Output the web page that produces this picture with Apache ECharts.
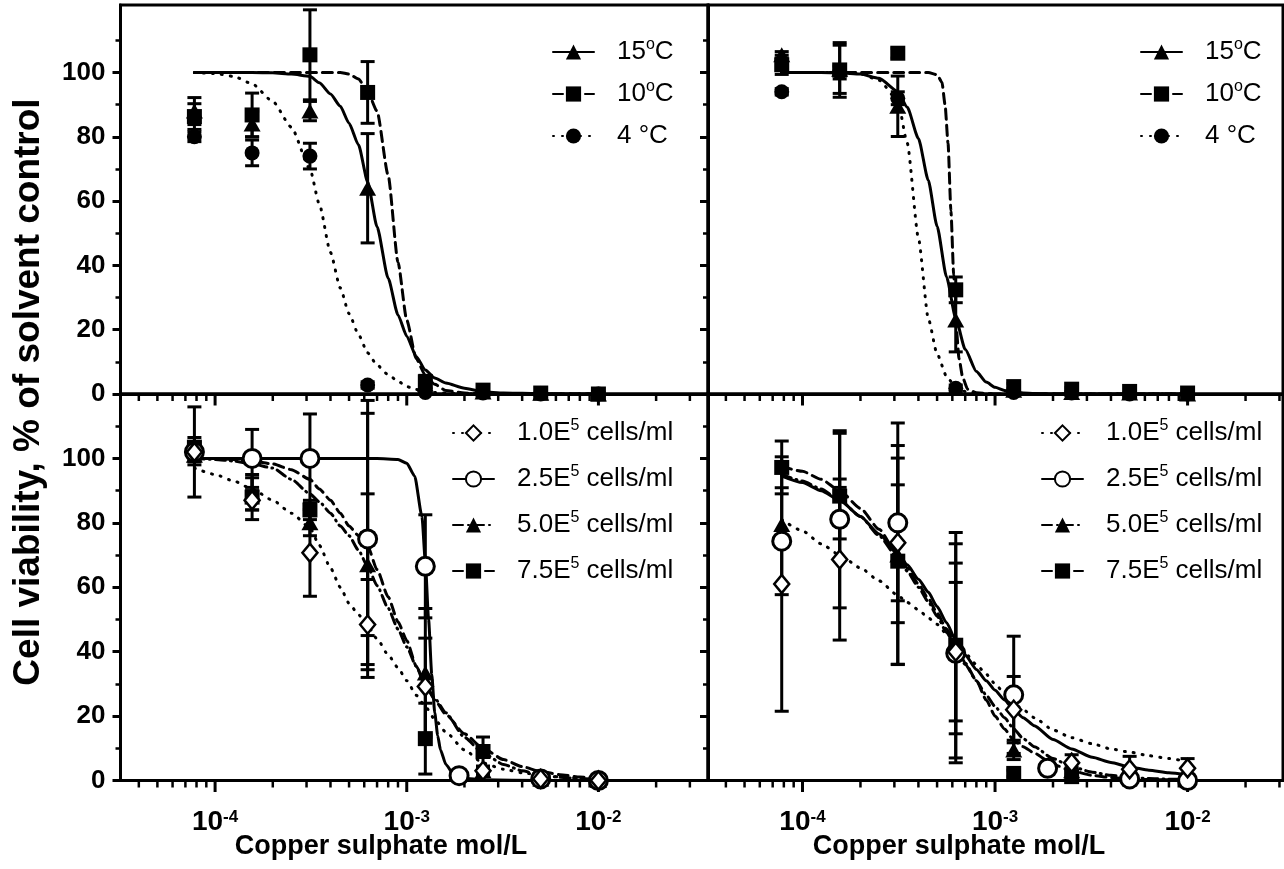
<!DOCTYPE html>
<html>
<head>
<meta charset="utf-8">
<title>Copper sulphate cell viability</title>
<script src="https://cdn.jsdelivr.net/npm/echarts@6/dist/echarts.min.js"></script>
<style>
html, body { margin: 0; padding: 0; background: #fff; }
#main { width: 1284px; height: 869px; }
</style>
</head>
<body>
<div id="main"></div>
<script>
// concentrations, mol/L
var conc = [7.8e-5, 1.56e-4, 3.125e-4, 6.25e-4, 1.25e-3, 2.5e-3, 5e-3, 1e-2];
var concCirc = [7.8e-5, 1.56e-4, 3.125e-4, 6.25e-4, 1.25e-3, 1.875e-3, 5e-3, 1e-2];

// x where the fitted curves were read
var fitX = [7.8e-5, 1e-4, 1.25e-4, 1.56e-4, 2e-4, 2.5e-4, 3.125e-4, 3.5e-4, 4e-4, 4.5e-4, 5e-4, 5.6e-4, 6.25e-4, 7e-4, 8e-4, 9e-4,
            1e-3, 1.12e-3, 1.25e-3, 1.4e-3, 1.6e-3, 2e-3, 2.5e-3, 3.2e-3, 4e-3, 5e-3, 6.3e-3, 8e-3, 1e-2];
var tr10X = [7.8e-5, 1e-4, 2e-4, 3.125e-4, 4e-4, 4.5e-4, 5e-4, 5.3e-4, 5.5e-4, 5.7e-4, 5.9e-4, 6.1e-4, 6.3e-4, 6.5e-4, 6.8e-4, 7.2e-4, 8e-4, 1e-3, 2e-3, 5e-3, 1e-2];
var bl25X = [7.8e-5, 1e-4, 2e-4, 3.125e-4, 5e-4, 7e-4, 9e-4, 1e-3, 1.1e-3, 1.2e-3, 1.25e-3, 1.3e-3, 1.35e-3, 1.4e-3, 1.45e-3, 1.5e-3, 1.6e-3, 1.75e-3, 2e-3, 2.5e-3, 5e-3, 1e-2];

// top left: temperature
var tl15Mean = [88, 84, 88, 64, 3, 0.6, 0.2, 0];
var tl15Err  = [4.2, 4, 3, 17, 1.5, 0, 0, 0];
var tl10Mean = [86.3, 86.8, 105.5, 93.8, 3.8, 1.2, 0.3, 0];
var tl10Err  = [4, 6.8, 14, 9.6, 2, 0.5, 0, 0];
var tl4Mean  = [80, 75, 74, 2.8, 0.5, 0.3, 0, 0];
var tl4Err   = [1.5, 4, 4, 1, 0, 0, 0, 0];
var tl15Fit = [100,100,100,100,99.9,99.5,98.8,96.8,93.3,89.5,84.2,77.5,66,52,36,24.6,18,11.7,7.5,5,3.4,1.8,0.7,0.3,0.2,0.1,0,0,0];
var tl10Fit = [100,100,100,100,100,100,100,100,100,100,99.5,98,94,88,68,41,23,11,5.8,3,1.1,0.3,0,0,0,0,0,0,0];
var tl4Fit  = [100,99.7,98.8,96.5,91,83,70,59,44,33,25,18.5,12.8,9,6,4,2.3,1.4,0.9,0.5,0.3,0.1,0,0,0,0,0,0,0];

// top right: temperature
var tr15Mean = [105.5, 101, 89.5, 23, 1.2, 0.5, 0.3, 0];
var tr15Err  = [1, 7.5, 9.4, 9.9, 0.5, 0, 0, 0];
var tr10Mean = [102.4, 100.8, 106, 32.4, 2.3, 1.5, 0.8, 0.3];
var tr10Err  = [3, 8.5, 1.5, 4, 1, 0.5, 0, 0];
var tr4Mean  = [94, 100, 92, 1.8, 0.5, 0.3, 0, 0];
var tr4Err   = [1, 2, 2, 1, 0, 0, 0, 0];
var tr15Fit = [100,100,100,99.9,99.5,98.2,94.1,89.2,79.5,66.5,52.2,36.4,23.5,13.9,7,3.7,2.1,1.1,0.6,0.3,0.15,0,0,0,0,0,0,0,0];
var tr10Fit = [100,100,100,100,100,100,99.3,97,90,78,57,37,20,11,5,1.5,0.4,0,0,0,0];
var tr4Fit  = [100,100,100,100,99.6,97.6,91.3,78,48.5,23.5,12.5,5.5,2,0.8,0.3,0.1,0,0,0,0,0,0,0,0,0,0,0,0,0];

// bottom left: cell density
var bl10Mean = [102, 87, 70.7, 48.4, 29.2, 3, 0.5, 0];
var bl10Err  = [14, 3, 13.5, 14, 15, 1, 0, 0];
var bl25Mean = [102, 100, 100, 75, 66.5, 1.5, 0.5, 0];
var bl25Err  = [3, 9, 13.8, 39, 16, 0, 0, 0];
var bl50Mean = [101, 89, 80, 67, 33.4, 3, 0.5, 0];
var bl50Err  = [3, 5, 4, 22, 20, 1, 0, 0];
var bl75Mean = [103.5, 88, 84, 75, 13, 9, 0.5, 0];
var bl75Err  = [3, 7, 3, 43, 11, 4.5, 0, 0];
var bl10Fit = [97,95,93,90.5,87,83,78.5,73,66,60,55,51.5,48,44,39,35,31,26.5,23,19,15,9.5,5.4,3.5,2.4,1.7,1.1,0.7,0.4];
var bl25Fit = [100,100,100,100,100,100,99.7,98.5,94.5,82,68,50,33,21,14,9.5,5,2,0.7,0.2,0,0];
var bl50Fit = [100,99.7,99.2,98.3,97,93.5,89,86.5,83,79,76,71.5,66.5,60.5,53.5,47,41.5,35.5,29.2,25.5,21,13.4,8.5,5,3,1.7,1,0.6,0.3];
var bl75Fit = [100,100,99.7,99.2,98.3,96.5,93.5,90.5,87,83,79,76,72.8,65.5,57,49.3,43.5,35.5,30,25,20.5,14.5,10,6.5,4.3,2.8,1.8,1.1,0.7];

// bottom right: cell density
var br10Mean = [61, 68.6, 73.8, 40, 22, 5.5, 3.5, 3.8];
var br10Err  = [39.5, 25, 18, 21.5, 10.3, 2.5, 4, 3];
var br25Mean = [74.3, 81.1, 80, 39.5, 26.6, 3.8, 0.5, 0];
var br25Err  = [16.6, 27.5, 31, 34, 18.2, 0, 0, 0];
var br50Mean = [79.5, 83, 70, 41, 9.5, 3, 1, 0.5];
var br50Err  = [0, 8, 34, 26.5, 3, 1, 0.5, 0];
var br75Mean = [97.2, 88.3, 68.1, 42, 2.2, 1.2, 0.5, 0];
var br75Err  = [8.2, 19.5, 32, 35, 1, 0, 0, 0];
var br10Fit = [81,77.5,73.5,70,66,62,57.5,55.3,53,50.5,48.5,45.5,42.5,39.5,36,33,30,27,24,22,19.5,15.7,13.3,11.4,9.8,8.8,7.7,6.8,5.9];
var br25Fit = [94.5,92.5,90,87,82,76.5,70.5,67,62.5,58.5,54,49,43.5,39,34.5,31,28,25,22,19.5,17,12.7,9.8,7.2,5.6,4.2,3.2,2.4,1.7];
var br50Fit = [95,93,90.5,87,82,76,69,65,60,55.5,51,46,41,36,31,26.5,23,19.5,16,13,10.5,6.8,4.3,2.6,1.6,1,0.6,0.4,0.3];
var br75Fit = [97.5,96,93.5,90,84.5,78,70,66,61,56.5,52,47,42,36.5,31,25,20,16,12.5,10.5,8.5,5,3,1.6,0.9,0.5,0.3,0.2,0.1];

// ticks
var yTicks = [0, 20, 40, 60, 80, 100];
var xMajorTicks = [1e-4, 1e-3, 1e-2];
var xMinorTicks = [4e-5, 5e-5, 6e-5, 7e-5, 8e-5, 9e-5, 2e-4, 3e-4, 4e-4, 5e-4, 6e-4, 7e-4, 8e-4, 9e-4,
                   2e-3, 3e-3, 4e-3, 5e-3, 6e-3, 7e-3, 8e-3, 9e-3, 2e-2, 3e-2];

var legendText = {
    tl15: '15{s|o}C', tl10: '10{s|o}C', tl4: '4 °C',
    tr15: '15{s|o}C', tr10: '10{s|o}C', tr4: '4 °C',
    bl10: '1.0E{s|5} cells/ml', bl25: '2.5E{s|5} cells/ml', bl50: '5.0E{s|5} cells/ml', bl75: '7.5E{s|5} cells/ml',
    br10: '1.0E{s|5} cells/ml', br25: '2.5E{s|5} cells/ml', br50: '5.0E{s|5} cells/ml', br75: '7.5E{s|5} cells/ml'
};

var FONT = '"Liberation Sans", Arial, sans-serif';

var panels = [
    {left: 120.5, top: 5, width: 587.5, height: 389, xMin: 3.21e-5, xMax: 3.73e-2, yMax: 121, yLab: true, xLab: false},
    {left: 708, top: 5, width: 575, height: 389, xMin: 3.23e-5, xMax: 3.13e-2, yMax: 121, yLab: false, xLab: false},
    {left: 120.5, top: 394, width: 587.5, height: 386.5, xMin: 3.21e-5, xMax: 3.73e-2, yMax: 120, yLab: true, xLab: true},
    {left: 708, top: 394, width: 575, height: 386.5, xMin: 3.23e-5, xMax: 3.13e-2, yMax: 120, yLab: false, xLab: true}
];

var markers = {
    tri:  {symbol: 'triangle', size: [17, 15], style: {color: '#000', opacity: 1}},
    sq:   {symbol: 'rect', size: 15, style: {color: '#000', opacity: 1}},
    dot:  {symbol: 'circle', size: 15, style: {color: '#000', opacity: 1}},
    dia:  {symbol: 'diamond', size: [15, 18], style: {color: '#fff', borderColor: '#000', borderWidth: 2.5, opacity: 1}},
    ring: {symbol: 'circle', size: 18, style: {color: '#fff', borderColor: '#000', borderWidth: 3, opacity: 1}}
};
var dashes = {solid: 'solid', dash: [10, 6], dot: [1, 8], dashdot: [10, 5, 1, 5]};

// panel, name, x, mean, err, fit x, fit y, marker, line
var groups = [
    [0, 'tl15', conc, tl15Mean, tl15Err, fitX, tl15Fit, 'tri', 'solid'],
    [0, 'tl10', conc, tl10Mean, tl10Err, fitX, tl10Fit, 'sq', 'dash'],
    [0, 'tl4', conc, tl4Mean, tl4Err, fitX, tl4Fit, 'dot', 'dot'],
    [1, 'tr15', conc, tr15Mean, tr15Err, fitX, tr15Fit, 'tri', 'solid'],
    [1, 'tr10', conc, tr10Mean, tr10Err, tr10X, tr10Fit, 'sq', 'dash'],
    [1, 'tr4', conc, tr4Mean, tr4Err, fitX, tr4Fit, 'dot', 'dot'],
    [2, 'bl75', conc, bl75Mean, bl75Err, fitX, bl75Fit, 'sq', 'dash'],
    [2, 'bl50', conc, bl50Mean, bl50Err, fitX, bl50Fit, 'tri', 'dashdot'],
    [2, 'bl25', concCirc, bl25Mean, bl25Err, bl25X, bl25Fit, 'ring', 'solid'],
    [2, 'bl10', conc, bl10Mean, bl10Err, fitX, bl10Fit, 'dia', 'dot'],
    [3, 'br75', conc, br75Mean, br75Err, fitX, br75Fit, 'sq', 'dash'],
    [3, 'br50', conc, br50Mean, br50Err, fitX, br50Fit, 'tri', 'dashdot'],
    [3, 'br25', concCirc, br25Mean, br25Err, fitX, br25Fit, 'ring', 'solid'],
    [3, 'br10', conc, br10Mean, br10Err, fitX, br10Fit, 'dia', 'dot']
];

function pairs(xs, ys) {
    return xs.map(function (x, i) { return [x, ys[i]]; });
}

function renderErr(params, api) {
    var x = api.value(0), m = api.value(1), e = api.value(2);
    var hi = api.coord([x, m + e]);
    var lo = api.coord([x, m - e]);
    var w = 7;
    var st = {stroke: '#000', lineWidth: 3};
    return {
        type: 'group',
        children: [
            {type: 'line', shape: {x1: hi[0], y1: hi[1], x2: lo[0], y2: lo[1]}, style: st},
            {type: 'line', shape: {x1: hi[0] - w, y1: hi[1], x2: hi[0] + w, y2: hi[1]}, style: st},
            {type: 'line', shape: {x1: lo[0] - w, y1: lo[1], x2: lo[0] + w, y2: lo[1]}, style: st}
        ]
    };
}

function powLabel(v) {
    var e = Math.log(v) / Math.LN10;
    var r = Math.round(e);
    if (Math.abs(e - r) > 1e-6) return '';
    return '{b|10}{s|' + r + '}';
}

var grids = [], xAxes = [], yAxes = [], series = [];

panels.forEach(function (p, i) {
    grids.push({left: p.left, top: p.top, width: p.width, height: p.height, show: true,
        borderColor: '#000', borderWidth: 3, backgroundColor: 'transparent', outerBoundsMode: 'none'});
    xAxes.push({
        type: 'log', logBase: 10, gridIndex: i, min: p.xMin, max: p.xMax,
        axisLine: {show: true, onZero: false, lineStyle: {color: '#000', width: 3}},
        axisTick: {show: false}, minorTick: {show: false}, splitLine: {show: false}, minorSplitLine: {show: false},
        axisLabel: {
            show: p.xLab, margin: 28, formatter: powLabel, color: '#000',
            rich: {
                b: {fontSize: 28, fontWeight: 'bold', fontFamily: FONT, color: '#000'},
                s: {fontSize: 17, fontWeight: 'bold', fontFamily: FONT, color: '#000', verticalAlign: 'top', lineHeight: 17}
            }
        }
    });
    yAxes.push({
        type: 'value', gridIndex: i, min: 0, max: p.yMax, interval: 20,
        axisLine: {show: true, onZero: false, lineStyle: {color: '#000', width: 3}},
        axisTick: {show: true, length: 8, customValues: yTicks, lineStyle: {color: '#000', width: 3}},
        minorTick: {show: true, splitNumber: 2, length: 5, lineStyle: {color: '#000', width: 2.5}},
        splitLine: {show: false},
        axisLabel: {show: p.yLab, customValues: yTicks, margin: 15, color: '#000',
            fontSize: 26, fontWeight: 'bold', fontFamily: FONT}
    });
    // x ticks drawn as marks on the axis, major then minor
    var ticksMinor = xMinorTicks.filter(function (v) { return v > p.xMin && v < p.xMax; });
    series.push({type: 'scatter', xAxisIndex: i, yAxisIndex: i, silent: true, clip: false, z: 1,
        symbol: 'rect', symbolSize: [3, 10], symbolOffset: [0, 6.5], itemStyle: {color: '#000', opacity: 1},
        data: xMajorTicks.map(function (v) { return [v, 0]; })});
    series.push({type: 'scatter', xAxisIndex: i, yAxisIndex: i, silent: true, clip: false, z: 1,
        symbol: 'rect', symbolSize: [2.5, 6], symbolOffset: [0, 4], itemStyle: {color: '#000', opacity: 1},
        data: ticksMinor.map(function (v) { return [v, 0]; })});
});

groups.forEach(function (g) {
    var p = g[0], mk = markers[g[7]];
    series.push({
        type: 'line', name: g[1], xAxisIndex: p, yAxisIndex: p, data: pairs(g[5], g[6]),
        symbol: mk.symbol, symbolSize: mk.size, showSymbol: false, smooth: 0.2, smoothMonotone: 'x',
        lineStyle: {color: '#000', width: 3, type: dashes[g[8]], cap: 'round'},
        itemStyle: mk.style, z: 2, silent: true
    });
});
groups.forEach(function (g) {
    var p = g[0];
    var errs = g[2].map(function (x, i) { return [x, g[3][i], g[4][i]]; })
        .filter(function (d) { return d[2] > 0; });
    series.push({
        type: 'custom', xAxisIndex: p, yAxisIndex: p, renderItem: renderErr,
        dimensions: ['x', 'y', 'e'], encode: {x: 0, y: 1}, data: errs, z: 3, silent: true
    });
});
groups.forEach(function (g) {
    var p = g[0], mk = markers[g[7]];
    series.push({
        type: 'scatter', xAxisIndex: p, yAxisIndex: p, data: pairs(g[2], g[3]),
        symbol: mk.symbol, symbolSize: mk.size, itemStyle: mk.style, z: 4, clip: false, silent: true
    });
});

function legendFor(names, left, top, gap) {
    return {
        data: names, orient: 'vertical', left: left, top: top, padding: 0,
        itemWidth: 41, itemHeight: 19, itemGap: gap, selectedMode: false,
        formatter: function (n) { return legendText[n]; },
        textStyle: {
            color: '#000', fontSize: 26, fontFamily: FONT, lineHeight: 30, padding: [0, 0, 0, 18],
            rich: {s: {fontSize: 16, fontFamily: FONT, color: '#000', verticalAlign: 'top', lineHeight: 16}}
        }
    };
}

var myChart = echarts.init(document.getElementById('main'));

var option = {
    animation: false,
    backgroundColor: '#fff',
    grid: grids,
    xAxis: xAxes,
    yAxis: yAxes,
    legend: [
        legendFor(['tl15', 'tl10', 'tl4'], 552, 37, 12),
        legendFor(['tr15', 'tr10', 'tr4'], 1140, 37, 12),
        legendFor(['bl10', 'bl25', 'bl50', 'bl75'], 452, 418, 16),
        legendFor(['br10', 'br25', 'br50', 'br75'], 1041, 418, 16)
    ],
    graphic: [
        {type: 'text', x: 29, y: 392, rotation: Math.PI / 2,
            style: {text: 'Cell viability, % of solvent control', fill: '#000', fontSize: 37, fontWeight: 'bold',
                fontFamily: FONT, align: 'center', verticalAlign: 'middle', textAlign: 'center', textVerticalAlign: 'middle'}},
        {type: 'text', x: 381, y: 847,
            style: {text: 'Copper sulphate mol/L', fill: '#000', fontSize: 27, fontWeight: 'bold',
                fontFamily: FONT, align: 'center', verticalAlign: 'middle', textAlign: 'center', textVerticalAlign: 'middle'}},
        {type: 'text', x: 959, y: 847,
            style: {text: 'Copper sulphate mol/L', fill: '#000', fontSize: 27, fontWeight: 'bold',
                fontFamily: FONT, align: 'center', verticalAlign: 'middle', textAlign: 'center', textVerticalAlign: 'middle'}}
    ],
    series: series
};

myChart.setOption(option);
</script>
</body>
</html>
